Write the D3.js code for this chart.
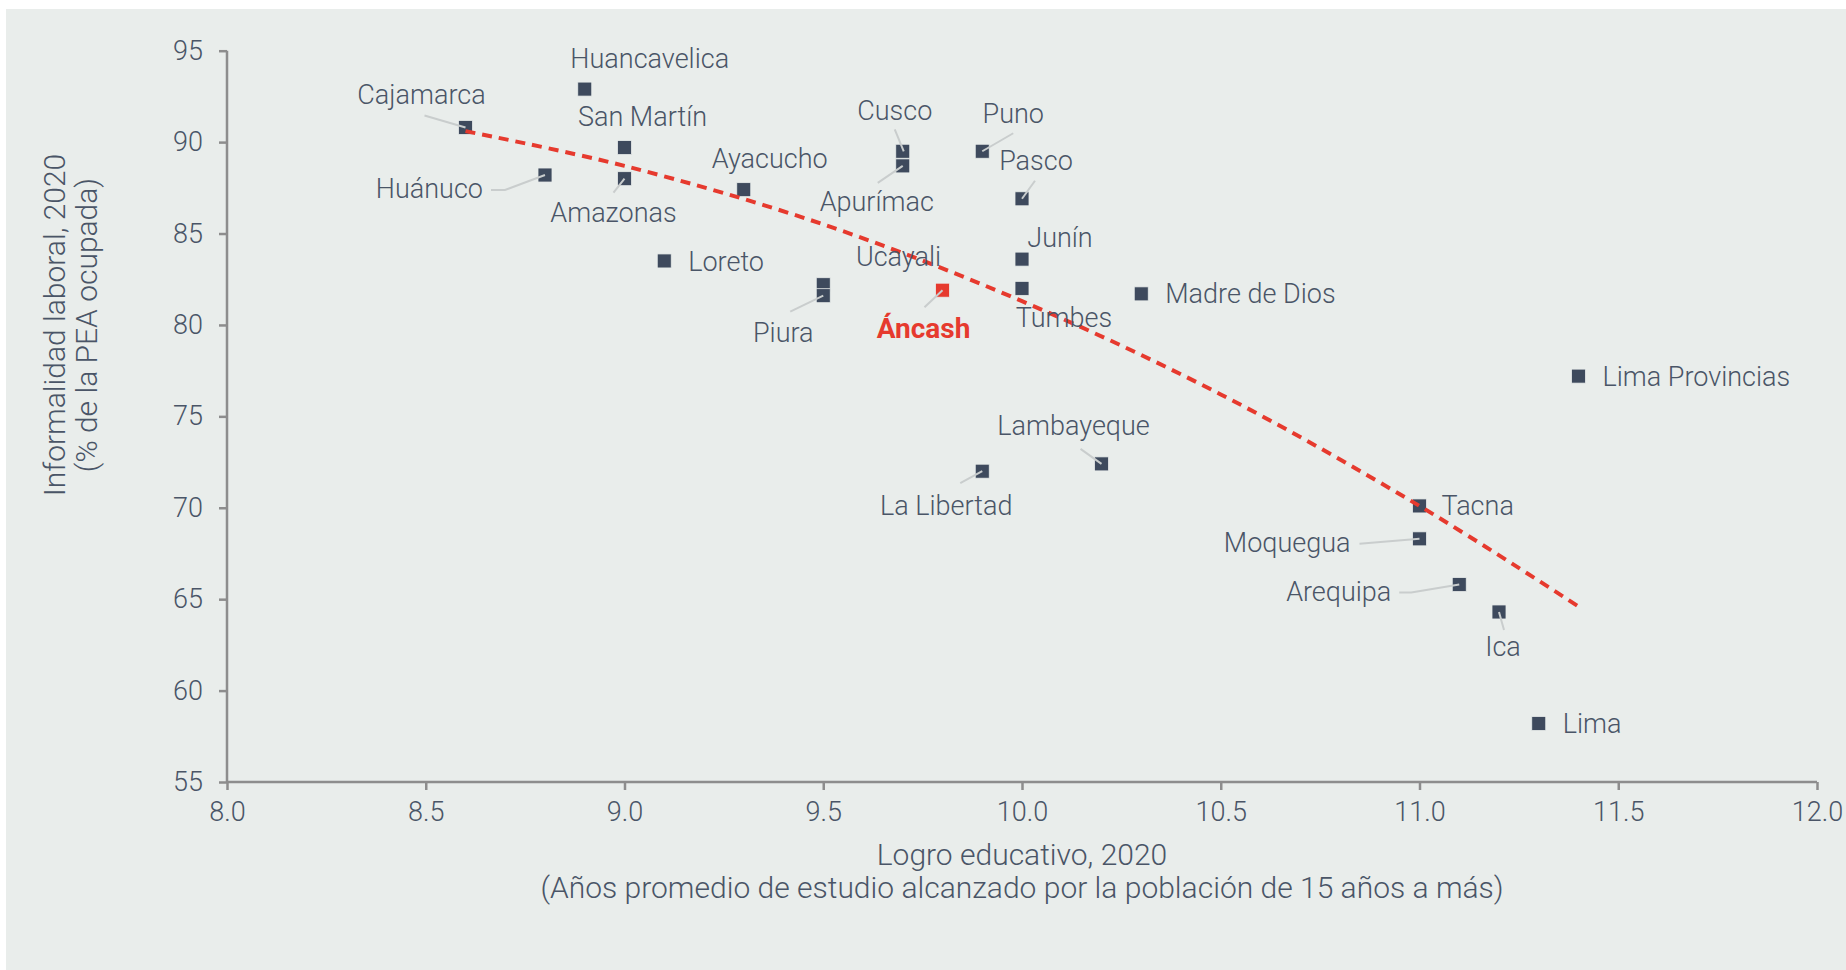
<!DOCTYPE html>
<html>
<head>
<meta charset="utf-8">
<script src="https://cdn.jsdelivr.net/npm/d3@7"></script>
<style>
  html, body { margin: 0; padding: 0; background: #ffffff; }
  svg { display: block; }
  text { font-family: "Roboto", "Liberation Sans", sans-serif; font-weight: 300; fill: #4a5567; }
</style>
</head>
<body>
<svg id="chart" width="1846" height="970"></svg>
<script>
// ---------------- DATA ----------------
const regions = ["Huancavelica","Cajamarca","San Martín","Huánuco","Amazonas","Ayacucho","Cusco","Apurímac","Puno","Pasco","Loreto","Junín","Ucayali","Piura","Áncash","Tumbes","Madre de Dios","Lima Provincias","Lambayeque","La Libertad","Tacna","Moquegua","Arequipa","Ica","Lima"];
const logroEducativo = [8.9, 8.6, 9.0, 8.8, 9.0, 9.3, 9.7, 9.7, 9.9, 10.0, 9.1, 10.0, 9.5, 9.5, 9.8, 10.0, 10.3, 11.4, 10.2, 9.9, 11.0, 11.0, 11.1, 11.2, 11.3];
const informalidad = [92.9, 90.8, 89.7, 88.2, 88.0, 87.4, 89.5, 88.7, 89.5, 86.9, 83.5, 83.6, 82.2, 81.6, 81.9, 82.0, 81.7, 77.2, 72.4, 72.0, 70.1, 68.3, 65.8, 64.3, 58.2];
const highlightRegion = "Áncash";

// polynomial trend line
const trendX = [8.6, 9.0, 9.5, 10.0, 10.5, 11.0, 11.4];
const trendY = [90.6, 88.7, 85.5, 81.3, 76.2, 70.1, 64.6];

const xTicks = [8.0, 8.5, 9.0, 9.5, 10.0, 10.5, 11.0, 11.5, 12.0];
const yTicks = [55, 60, 65, 70, 75, 80, 85, 90, 95];

const yTitle = ["Informalidad laboral, 2020", "(% de la PEA ocupada)"];
const xTitle = ["Logro educativo, 2020", "(Años promedio de estudio alcanzado por la población de 15 años a más)"];

// ---------------- LABEL LAYOUT (px offsets from marker centre) ----------------
const labelLayout = {
  "Huancavelica":   {dx: 65,  dy: -31, anchor: "middle"},
  "Cajamarca":      {dx: -44, dy: -33, anchor: "middle", leader: [[-41,-12],[0,0]]},
  "San Martín":     {dx: 18,  dy: -31, anchor: "middle"},
  "Huánuco":        {dx: -62, dy: 14,  anchor: "end",    leader: [[-54,15],[-40,15],[0,0]]},
  "Amazonas":       {dx: -11, dy: 34,  anchor: "middle", leader: [[-11,14],[0,0]]},
  "Ayacucho":       {dx: 26,  dy: -31, anchor: "middle"},
  "Cusco":          {dx: -8,  dy: -41, anchor: "middle", leader: [[-8,-22],[1,0]]},
  "Apurímac":       {dx: -26, dy: 36,  anchor: "middle", leader: [[-25,17],[0,0]]},
  "Puno":           {dx: 31,  dy: -38, anchor: "middle", leader: [[31,-18],[0,0]]},
  "Pasco":          {dx: 14,  dy: -38, anchor: "middle", leader: [[13,-18],[0,0]]},
  "Loreto":         {dx: 24,  dy: 1,   anchor: "start"},
  "Junín":          {dx: 38,  dy: -22, anchor: "middle"},
  "Ucayali":        {dx: -44, dy: -34, anchor: "middle", ref: "Áncash"},
  "Piura":          {dx: -40, dy: 37,  anchor: "middle", leader: [[-33,16],[0,0]]},
  "Áncash":         {dx: -19, dy: 38,  anchor: "middle", leader: [[-18,17],[0,0]]},
  "Tumbes":         {dx: 42,  dy: 29,  anchor: "middle"},
  "Madre de Dios":  {dx: 24,  dy: 0,   anchor: "start"},
  "Lima Provincias":{dx: 24,  dy: 0,   anchor: "start"},
  "Lambayeque":     {dx: -28, dy: -38, anchor: "middle", leader: [[-21,-15],[0,0]]},
  "La Libertad":    {dx: -36, dy: 34,  anchor: "middle", leader: [[-22,12],[0,0]]},
  "Tacna":          {dx: 22,  dy: 0,   anchor: "start"},
  "Moquegua":       {dx: -69, dy: 4,   anchor: "end",    leader: [[-60,5],[0,0]]},
  "Arequipa":       {dx: -68, dy: 7,   anchor: "end",    leader: [[-60,8],[-48,8],[0,0]]},
  "Ica":            {dx: 4,   dy: 35,  anchor: "middle", leader: [[5,18],[0,0]]},
  "Lima":           {dx: 24,  dy: 0,   anchor: "start"}
};

// ---------------- CHART ----------------
const W = 1846, H = 970;
const margin = {left: 227, right: 1846 - 1817, top: 50.7, bottom: 970 - 782};
const svg = d3.select("#chart");
const FONT = '"Roboto", "Liberation Sans", sans-serif';

// panel background
svg.append("rect").attr("x", 6).attr("y", 9).attr("width", W - 6).attr("height", H - 9).attr("fill", "#e9edeb");

const x = d3.scaleLinear().domain([8, 12]).range([margin.left, W - margin.right]);
const y = d3.scaleLinear().domain([55, 95]).range([H - margin.bottom, margin.top]);

const axisColor = "#8d8d8d";
const fontSize = 27;
const titleSize = 30;

// y axis
const yAxis = svg.append("g").attr("transform", `translate(${margin.left},0)`)
  .call(d3.axisLeft(y).tickValues(yTicks).tickSize(8).tickPadding(16).tickFormat(d3.format("d")));
// x axis
const xAxis = svg.append("g").attr("transform", `translate(0,${H - margin.bottom})`)
  .call(d3.axisBottom(x).tickValues(xTicks).tickSize(8).tickPadding(12).tickFormat(d3.format(".1f")));

[yAxis, xAxis].forEach(g => {
  g.select(".domain").attr("stroke", axisColor).attr("stroke-width", 2.5);
  g.selectAll(".tick line").attr("stroke", axisColor).attr("stroke-width", 2.5);
  g.selectAll(".tick text").attr("fill", "#4a5567").style("font-size", fontSize + "px")
    .style("font-family", FONT).style("font-weight", 300);
});
yAxis.select(".domain").attr("d", `M0,${y(95)}V${y(55)}`);
xAxis.select(".domain").attr("d", `M${x(8)},0H${x(12)}`);

// axis titles
yTitle.forEach((t, i) => {
  svg.append("text")
    .attr("transform", `translate(${54 + i * 32},325) rotate(-90)`)
    .attr("text-anchor", "middle").attr("dy", "0.35em")
    .style("font-size", titleSize + "px").text(t);
});
xTitle.forEach((t, i) => {
  svg.append("text")
    .attr("x", (x(8) + x(12)) / 2).attr("y", 854 + i * 33)
    .attr("text-anchor", "middle").attr("dy", "0.35em")
    .style("font-size", titleSize + "px").text(t);
});

const points = regions.map((r, i) => ({name: r, x: logroEducativo[i], y: informalidad[i]}));
const byName = Object.fromEntries(points.map(p => [p.name, p]));

// trend line
const trend = trendX.map((v, i) => [v, trendY[i]]);
const line = d3.line().x(d => x(d[0])).y(d => y(d[1])).curve(d3.curveCatmullRom);

// markers
const ms = 14;
svg.append("g").selectAll("rect").data(points).join("rect")
  .attr("x", d => x(d.x) - ms / 2).attr("y", d => y(d.y) - ms / 2)
  .attr("width", ms).attr("height", ms)
  .attr("fill", d => d.name === highlightRegion ? "#e63a2e" : "#3e4a5d")
  .attr("stroke", "#e9edeb").attr("stroke-width", 0.8);

svg.append("path").datum(trend).attr("d", line)
  .attr("fill", "none").attr("stroke", "#e63a2e").attr("stroke-width", 4)
  .attr("stroke-dasharray", "10,7");

// leaders
const leaderG = svg.append("g");
points.forEach(p => {
  const L = labelLayout[p.name];
  if (L && L.leader) {
    const cx = x(p.x), cy = y(p.y);
    leaderG.append("path")
      .attr("d", d3.line()(L.leader.map(q => [cx + q[0], cy + q[1]])))
      .attr("fill", "none").attr("stroke", "#c9cdcd").attr("stroke-width", 2);
  }
});

// labels
const labelG = svg.append("g");
points.forEach(p => {
  const L = labelLayout[p.name];
  const base = L.ref ? byName[L.ref] : p;
  const cx = x(base.x), cy = y(base.y);
  const isHi = p.name === highlightRegion;
  labelG.append("text")
    .attr("x", cx + L.dx).attr("y", cy + L.dy).attr("dy", "0.35em")
    .attr("text-anchor", L.anchor)
    .style("font-size", (isHi ? 28 : fontSize) + "px")
    .style("font-weight", isHi ? 700 : 300)
    .style("fill", isHi ? "#e63a2e" : "#4a5567")
    .text(p.name);
});
</script>
</body>
</html>
